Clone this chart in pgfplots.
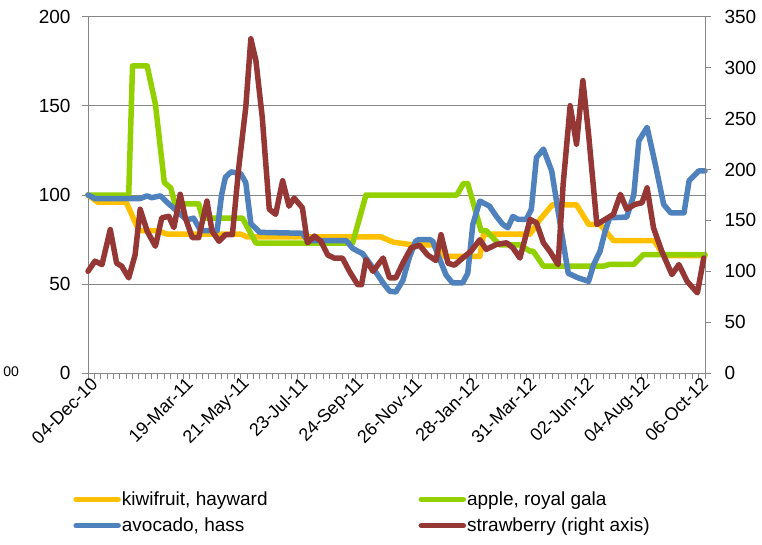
\documentclass[border=0pt]{standalone}
\usepackage{pgfplots}
\pgfplotsset{compat=1.18}
\usepackage{fontspec}
\setmainfont{Liberation Sans}
\definecolor{kiwi}{RGB}{255,192,0}
\definecolor{apple}{RGB}{146,208,0}
\definecolor{avo}{RGB}{79,129,189}
\definecolor{straw}{RGB}{149,55,53}
\definecolor{axgray}{RGB}{134,134,134}
\newcommand{\lbl}{\fontsize{19}{22}\selectfont}
\newcommand{\xlbl}{\fontsize{18}{21}\selectfont}
\begin{document}
\begin{tikzpicture}
\path[use as bounding box] (0pt,0pt) rectangle (762pt,544pt);
\begin{axis}[
  at={(88pt,171pt)}, anchor=south west,
  width=617pt, height=356pt, scale only axis,
  xmin=0, xmax=97, ymin=0, ymax=200,
  axis x line*=bottom, axis y line*=left,
  axis line style={axgray, line width=1pt, -},
  ytick={0,50,...,200},
  xtick={0,15,24,33,42,51,60,69,78,87,96},
  xticklabels={04-Dec-10,19-Mar-11,21-May-11,23-Jul-11,24-Sep-11,26-Nov-11,28-Jan-12,31-Mar-12,02-Jun-12,04-Aug-12,06-Oct-12},
  minor xtick={0,1,...,97},
  tick align=outside,
  major tick length=6pt, minor tick length=6pt,
  tick style={axgray, line width=1pt},
  ymajorgrids, grid style={axgray, line width=1pt},
  /pgf/number format/assume math mode=true,
  tick label style={font=\lbl},
  yticklabel style={xshift=-8pt},
  xticklabel style={font=\xlbl, rotate=45, anchor=east, inner sep=1pt, xshift=4pt, yshift=-6pt},
  clip=false,
  legend columns=2,
  legend cell align=left,
  legend image code/.code={\draw[#1, line width=5.5pt] (0pt,0pt) -- (42pt,0pt);},
  legend style={at={(-0.024,-0.33)}, anchor=north west, draw=none, fill=none,
    font=\lbl, inner sep=0pt, row sep=9pt,
    /tikz/every even column/.append style={column sep=150pt},
    nodes={inner sep=1pt}},
  every axis plot/.append style={line width=5.5pt, line join=round, line cap=round},
]
\addplot[kiwi] coordinates {(0,100)(1.5,96)(6,96)(8,80)(11,80)(12.4,78)(24,78)(25,76.5)(46,76.5)(48,73.5)(51,72)(55,72)(56,65.5)(61.6,65.5)(62.2,78)(69.5,78)(71,86)(73,94.5)(76.8,94.5)(78.7,83.5)(80.5,83.5)(82.6,74.4)(89,74.4)(90.5,66)(97,66)};
\addlegendentry{kiwifruit, hayward}
\addplot[apple] coordinates {(0,100)(6.4,100)(7,172.5)(9.3,172.5)(10.6,151)(12,107)(13,104)(13.7,95)(17.4,95)(18,87)(24.3,87)(26.4,73)(41.6,73)(43.7,100)(58,100)(59,106.4)(59.7,106.4)(61.8,80)(62.6,80)(64.7,72)(67.9,72)(69.5,68.4)(70,68.4)(71.6,60)(81,60)(82,61)(85.8,61)(87.3,66.5)(97,66.5)};
\addlegendentry{apple, royal gala}
\addplot[avo] coordinates {(0,100)(1.1,98)(8.2,98)(9.3,99.5)(10,98.5)(11.4,99.5)(12.7,95)(14,91)(15.5,86)(16.6,87)(17.7,80)(20.3,80)(21,100)(21.6,110)(22.5,113)(24,112)(24.8,107)(25.6,84)(27,79)(33.7,78.5)(34.5,74.4)(40.6,74.4)(41.6,70)(43.2,67)(44.8,59)(46.4,50.6)(47.4,46)(48.4,45.5)(49.5,52)(50.5,64.7)(51.5,74)(52,75)(53.7,75)(54.2,74)(55.2,64.7)(56.3,55)(57.3,50.6)(58.9,50.6)(59.7,56)(60.5,83.5)(61.6,96.6)(63.1,93.8)(64.2,88)(65.2,83.5)(66,81.6)(66.8,88)(67.6,86.3)(68.9,86.3)(69.7,92)(70.5,121)(71.6,125.8)(72.9,113.5)(73.9,91)(75.5,56)(77.1,53.4)(78.7,51.5)(79.5,61)(80.5,68.4)(81.3,79.7)(82,87.2)(84.7,87.6)(85.8,100)(86.6,130.5)(87.9,138)(89.2,117)(90.5,94.7)(91.6,90)(93.7,90)(94.5,108)(96,113.5)(97,113.5)};
\addlegendentry{avocado, hass}
\addlegendimage{straw, line width=5.5pt}
\addlegendentry{strawberry (right axis)}
\node[font=\fontsize{14}{16}\selectfont, anchor=west] at (axis description cs:-0.143,0.005) {00};
\end{axis}
\begin{axis}[
  at={(88pt,171pt)}, anchor=south west,
  width=617pt, height=356pt, scale only axis,
  xmin=0, xmax=97, ymin=0, ymax=350,
  axis x line=none, axis y line*=right,
  axis line style={axgray, line width=1pt, -},
  ytick={0,50,...,350},
  tick align=outside,
  major tick length=6pt,
  tick style={axgray, line width=1pt},
  /pgf/number format/assume math mode=true,
  tick label style={font=\lbl},
  yticklabel style={xshift=10pt},
  clip=false,
  every axis plot/.append style={line width=5.5pt, line join=round, line cap=round},
]
\addplot[straw] coordinates {(0,100)(1.1,110)(2.2,106.6)(3.5,141)(4.5,108)(5.3,105)(6.4,93.5)(7.4,116)(8.2,161)(9.3,139.5)(10.6,124.6)(11.6,152.6)(12.7,154)(13.5,143)(14.5,175.7)(15.3,152.6)(16.4,133)(17.4,133)(18.7,169)(19.5,139.5)(20.6,129.5)(21.6,136)(22.7,136)(23.7,202)(24.8,261)(25.6,328.6)(26.4,307)(27.4,251)(28.5,161)(29.5,156)(30.6,189)(31.6,164)(32.4,172)(33.7,162.5)(34.5,128)(35.6,134.6)(36.6,129.5)(37.7,116)(38.7,113)(40,113)(41.1,100)(42.4,86.8)(43,86.8)(43.7,111.5)(44.8,100)(46.4,113)(47.4,93.5)(48.4,93.5)(49.5,108)(50.8,123)(52.1,125.7)(53.4,116)(54.7,110.6)(55.5,136)(56.6,108)(57.6,106)(58.9,113)(60.2,119.7)(61.6,131)(62.6,121.5)(64.2,126.4)(65.8,128)(66.8,123)(67.9,113)(69.5,151)(70.5,147.7)(71.6,128)(72.6,119.7)(73.9,106.6)(74.7,185.5)(75.8,262.8)(76.8,225)(77.8,287.5)(78.7,234.5)(80,146)(81.3,151)(82.6,156)(83.7,175.6)(84.7,161)(86,165.8)(87.1,167.4)(87.9,182)(88.9,142.8)(90.2,119.7)(91.8,96.8)(92.9,106.6)(94.2,90)(95.8,78.8)(96.8,113)};
\end{axis}
\end{tikzpicture}
\end{document}
